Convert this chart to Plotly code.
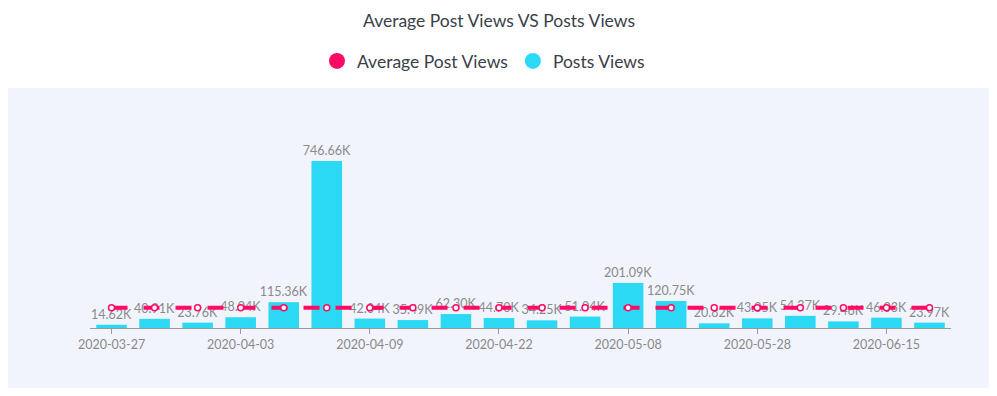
import plotly.graph_objects as go

categories = ["2020-03-27", "2020-03-30", "2020-04-01", "2020-04-03", "2020-04-05",
              "2020-04-07", "2020-04-09", "2020-04-13", "2020-04-17", "2020-04-22",
              "2020-04-27", "2020-05-02", "2020-05-08", "2020-05-14", "2020-05-21",
              "2020-05-28", "2020-06-03", "2020-06-09", "2020-06-15", "2020-06-20"]
posts_views_k = [14.62, 40.91, 23.76, 48.04, 115.36, 746.66, 42.04, 35.49, 62.30, 44.70,
                 34.25, 51.04, 201.09, 120.75, 20.82, 43.05, 54.37, 29.46, 46.03, 23.97]
avg_views_k = [89.94, 89.94, 89.94, 89.94, 89.94, 89.94, 89.94, 89.94, 89.94, 89.94,
               89.94, 89.94, 89.94, 89.94, 89.94, 89.94, 89.94, 89.94, 89.94, 89.94]
tick_labels = ["2020-03-27", "2020-04-03", "2020-04-09", "2020-04-22",
               "2020-05-08", "2020-05-28", "2020-06-15"]

PINK = "#FF0A64"
CYAN = "#2BD9F5"
FONT = "Lato, Noto Sans, sans-serif"

fig = go.Figure()
fig.add_trace(go.Bar(
    x=categories, y=posts_views_k, name="Posts Views", marker_color=CYAN,
    marker_line_width=0,
    texttemplate="%{y:.2f}K", textposition="outside", constraintext="none",
    cliponaxis=False, textfont=dict(color="#8a8a8a", size=12.5, family=FONT),
    showlegend=False,
))
fig.add_trace(go.Scatter(
    x=categories, y=avg_views_k, name="Average Post Views", mode="lines+markers",
    line=dict(color=PINK, width=4, dash="16px,16px"),
    marker=dict(symbol="circle", size=6, color="white", line=dict(color=PINK, width=1.5)),
    cliponaxis=False, showlegend=False,
))
# legend entries (circles)
fig.add_trace(go.Scatter(x=[None], y=[None], mode="markers", name="Average Post Views",
                         marker=dict(size=17, color=PINK)))
fig.add_trace(go.Scatter(x=[None], y=[None], mode="markers", name="Posts Views",
                         marker=dict(size=17, color=CYAN)))

# page body has an 8px margin, so the figure is laid out 8px up/left
OFF = 8
W, H = 997 - OFF, 396 - OFF
ml, mr, mt, mb = 90 - OFF, W - (951 - OFF), 140 - OFF, H - (328 - OFF)
pw, ph = W - ml - mr, H - mt - mb

def py(pix):
    return (H - mb - (pix - OFF)) / ph

def px(pix):
    return (pix - OFF - ml) / pw

fig.add_shape(type="rect", xref="paper", yref="paper", layer="below",
              x0=px(8), x1=px(990),
              y0=py(388), y1=py(88),
              fillcolor="#F1F4FC", line_width=0)

fig.update_layout(
    width=W, height=H,
    margin=dict(l=ml, r=mr, t=mt, b=mb, autoexpand=False),
    paper_bgcolor="white", plot_bgcolor="rgba(0,0,0,0)",
    font=dict(family=FONT, color="#3a3f4a"),
    title=dict(text="Average Post Views VS Posts Views", x=px(499), xanchor="center",
               xref="paper",
               y=1 - (21 - OFF) / H, yanchor="middle", font=dict(size=17.5, color="#3a3f4a")),
    legend=dict(orientation="h", x=0.457, xanchor="center", y=py(61),
                yanchor="middle", font=dict(size=17.5, color="#3a3f4a"),
                bgcolor="rgba(0,0,0,0)", itemwidth=30),
    bargap=0.29,
    xaxis=dict(type="category", categoryorder="array", categoryarray=categories,
               range=[-0.5, len(categories) - 0.5], autorange=False,
               tickmode="array", tickvals=tick_labels, ticktext=tick_labels,
               showline=True, linecolor="#9a9a9a", linewidth=1, ticks="outside", ticklen=5,
               tickcolor="#9a9a9a", showgrid=False, zeroline=False,
               tickfont=dict(size=12.5, color="#8a8a8a")),
    yaxis=dict(visible=False, range=[0, 840], showgrid=False, zeroline=False),
)

fig.write_html("out.html")
